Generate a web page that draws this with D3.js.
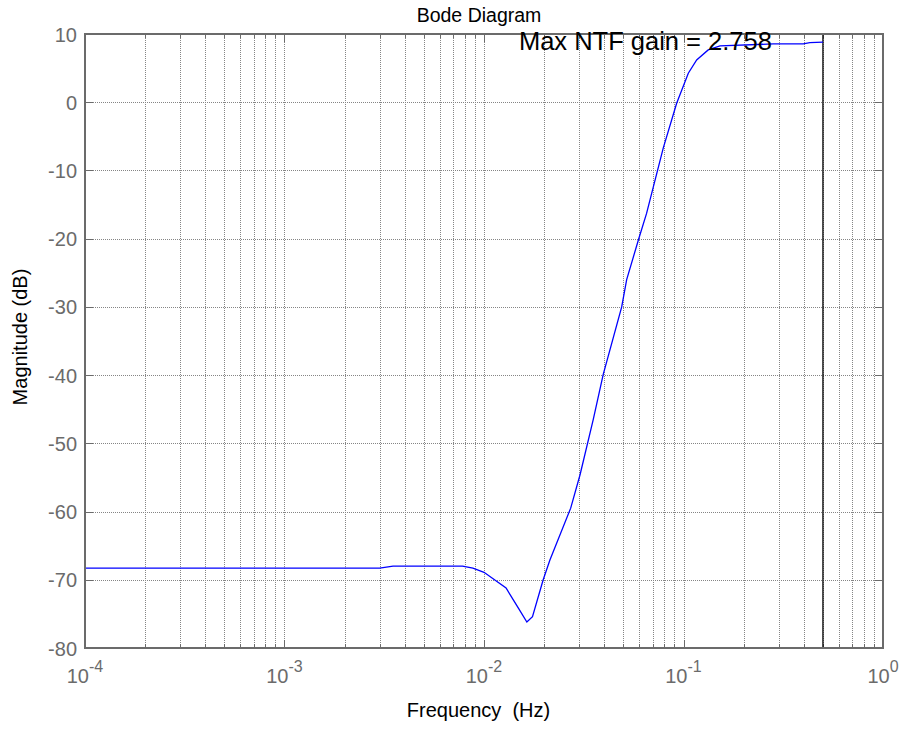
<!DOCTYPE html>
<html><head><meta charset="utf-8">
<script src="https://cdn.jsdelivr.net/npm/d3@7"></script>
<style>
body{margin:0;background:#fff}
svg{display:block}
text{font-family:Arial,"Liberation Sans",Helvetica,sans-serif}
</style></head>
<body><svg id="chart" width="903" height="729"></svg>
<script>
// ---- data ----
const freqHz = [1e-4, 3.0e-3, 3.5e-3, 7.8e-3, 8.8e-3, 1.0e-2, 1.29e-2, 1.49e-2, 1.64e-2, 1.75e-2,
  1.98e-2, 2.14e-2, 2.72e-2, 3.03e-2, 3.53e-2, 3.96e-2, 4.90e-2, 5.19e-2, 5.94e-2, 6.53e-2,
  7.92e-2, 9.24e-2, 0.1057, 0.1164, 0.133, 0.1524, 0.282, 0.398, 0.43, 0.5];
const magnitudeDb = [-68.3, -68.3, -68.0, -68.0, -68.3, -68.9, -71.2, -74.2, -76.2, -75.4,
  -70.0, -67.1, -59.5, -54.6, -46.5, -39.9, -30.0, -26.0, -20.2, -16.3,
  -6.7, -0.15, 4.25, 6.2, 7.67, 8.26, 8.55, 8.55, 8.74, 8.8];
const yTickValues = [-80, -70, -60, -50, -40, -30, -20, -10, 0, 10];
const xDecadeExponents = [-4, -3, -2, -1, 0];
const nyquistHz = 0.5;
const annotation = {text: "Max NTF gain = 2.758", f: 0.01496, db: 7.6};
const titleText = "Bode Diagram";
const xLabelText = "Frequency  (Hz)";
const yLabelText = "Magnitude (dB)";

// ---- layout ----
const L = 85, R = 883, T = 34, B = 648;
const axisColor = "#6b6b6b";
const svg = d3.select("#chart");
const x = d3.scaleLog().domain([1e-4, 1]).range([L, R]);
const y = d3.scaleLinear().domain([-80, 10]).range([B, T]);

const allXTicks = x.ticks(); // 1..9 per decade
const isMajor = v => Math.abs(Math.log10(v) - Math.round(Math.log10(v))) < 1e-9;

// grid
const grid = svg.append("g").attr("stroke", "#858585").attr("stroke-width", 1)
  .attr("stroke-dasharray", "1,1");
grid.selectAll("line.vx").data(allXTicks.filter(v => v > 1e-4 && v < 1)).join("line")
  .attr("x1", d => Math.round(x(d)) + 0.5).attr("x2", d => Math.round(x(d)) + 0.5)
  .attr("y1", T).attr("y2", B);
grid.selectAll("line.hy").data(yTickValues.filter(v => v > -80 && v < 10)).join("line")
  .attr("x1", L).attr("x2", R)
  .attr("y1", d => Math.round(y(d)) + 0.5).attr("y2", d => Math.round(y(d)) + 0.5);

// ticks
const tk = svg.append("g").attr("stroke", axisColor).attr("stroke-width", 1);
allXTicks.forEach(v => {
  const px = Math.round(x(v)) + 0.5, len = isMajor(v) ? 8 : 4;
  tk.append("line").attr("x1", px).attr("x2", px).attr("y1", B).attr("y2", B - len);
  tk.append("line").attr("x1", px).attr("x2", px).attr("y1", T).attr("y2", T + len);
});
yTickValues.forEach(v => {
  const py = Math.round(y(v)) + 0.5;
  tk.append("line").attr("x1", L).attr("x2", L + 8).attr("y1", py).attr("y2", py);
  tk.append("line").attr("x1", R).attr("x2", R - 8).attr("y1", py).attr("y2", py);
});

// nyquist line
svg.append("line").attr("x1", x(nyquistHz)).attr("x2", x(nyquistHz))
  .attr("y1", T).attr("y2", B).attr("stroke", "#000").attr("stroke-width", 1.3);

// data line
const line = d3.line().x((d, i) => x(freqHz[i])).y(d => y(d));
svg.append("path").datum(magnitudeDb).attr("d", line)
  .attr("fill", "none").attr("stroke", "#0000ff").attr("stroke-width", 1.3);

// box
svg.append("rect").attr("x", L).attr("y", T).attr("width", R - L).attr("height", B - T)
  .attr("fill", "none").attr("stroke", axisColor).attr("stroke-width", 2);

// y tick labels
svg.append("g").selectAll("text").data(yTickValues).join("text")
  .attr("x", L - 8).attr("y", d => y(d)).attr("dy", "0.38em")
  .attr("text-anchor", "end").attr("font-size", 20).attr("fill", axisColor)
  .text(d => d);

// x tick labels
const xl = svg.append("g").selectAll("text").data(xDecadeExponents).join("text")
  .attr("x", d => x(Math.pow(10, d))).attr("y", B + 35)
  .attr("text-anchor", "middle").attr("font-size", 20).attr("fill", axisColor);
xl.append("tspan").text("10");
xl.append("tspan").attr("dy", -11).attr("font-size", 16).text(d => d);

// annotation
svg.append("text").attr("x", x(annotation.f)).attr("y", y(annotation.db))
  .attr("font-size", 25.5).attr("fill", "#000").text(annotation.text);

// title and labels
svg.append("text").attr("x", 479).attr("y", 21.5).attr("text-anchor", "middle")
  .attr("font-size", 19.5).attr("fill", "#000").text(titleText);
svg.append("text").attr("x", 478.5).attr("y", 717).attr("text-anchor", "middle")
  .attr("font-size", 20).attr("fill", "#000").style("white-space", "pre").text(xLabelText);
svg.append("text").attr("transform", "translate(27,337) rotate(-90)").attr("text-anchor", "middle")
  .attr("font-size", 20).attr("fill", "#000").text(yLabelText);
</script></body></html>
